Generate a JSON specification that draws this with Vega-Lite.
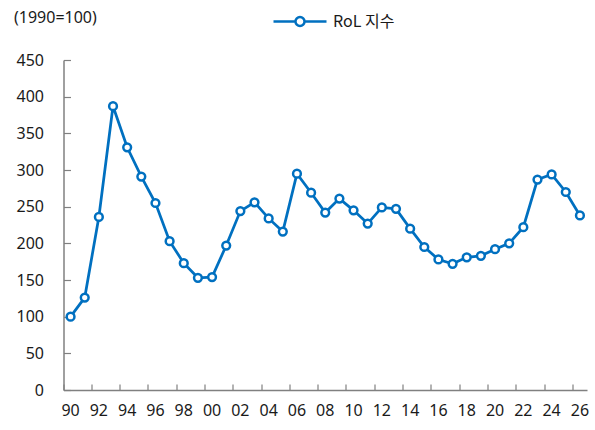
{
  "$schema": "https://vega.github.io/schema/vega-lite/v6.json",
  "autosize": "none",
  "width": 523.5,
  "height": 330,
  "padding": {"left": 63.5, "top": 60, "right": 8, "bottom": 40},
  "background": "white",
  "config": {
    "view": {"stroke": null},
    "font": "Noto Sans",
    "axis": {"labelFont": "Noto Sans", "labelFontSize": 16, "labelColor": "#1a1a1a", "domainColor": "#808080", "tickColor": "#808080", "domainWidth": 1.5, "tickWidth": 1.2, "grid": false}
  },
  "data": {
    "values": [
      {"year": "90", "v": 100}, {"year": "91", "v": 126}, {"year": "92", "v": 236}, {"year": "93", "v": 387},
      {"year": "94", "v": 331}, {"year": "95", "v": 291}, {"year": "96", "v": 255}, {"year": "97", "v": 203},
      {"year": "98", "v": 173}, {"year": "99", "v": 153}, {"year": "00", "v": 154}, {"year": "01", "v": 197},
      {"year": "02", "v": 244}, {"year": "03", "v": 256}, {"year": "04", "v": 234}, {"year": "05", "v": 216},
      {"year": "06", "v": 295}, {"year": "07", "v": 269}, {"year": "08", "v": 242}, {"year": "09", "v": 261},
      {"year": "10", "v": 245}, {"year": "11", "v": 227}, {"year": "12", "v": 249}, {"year": "13", "v": 247},
      {"year": "14", "v": 220}, {"year": "15", "v": 195}, {"year": "16", "v": 178}, {"year": "17", "v": 172},
      {"year": "18", "v": 181}, {"year": "19", "v": 183}, {"year": "20", "v": 192}, {"year": "21", "v": 200},
      {"year": "22", "v": 222}, {"year": "23", "v": 287}, {"year": "24", "v": 294}, {"year": "25", "v": 270},
      {"year": "26", "v": 238}
    ]
  },
  "transform": [{"calculate": "'RoL 지수'", "as": "series"}],
  "mark": {
    "type": "line",
    "strokeWidth": 2.75,
    "point": {"filled": false, "fill": "white", "size": 60, "strokeWidth": 2.5, "color": "#0070C0"}
  },
  "encoding": {
    "x": {
      "field": "year", "type": "ordinal", "sort": null,
      "scale": {"type": "band", "paddingInner": 0, "paddingOuter": 0},
      "axis": {
        "title": null,
        "values": ["90","92","94","96","98","00","02","04","06","08","10","12","14","16","18","20","22","24","26"],
        "bandPosition": 0,
        "labelAngle": 0,
        "tickSize": -6,
        "labelPadding": 18
      }
    },
    "y": {
      "field": "v", "type": "quantitative",
      "scale": {"domain": [0, 450], "nice": false, "zero": true},
      "axis": {
        "values": [0, 50, 100, 150, 200, 250, 300, 350, 400, 450],
        "tickSize": -7,
        "labelPadding": 27,
        "title": "(1990=100)",
        "titleAngle": 0,
        "titleAlign": "left",
        "titleBaseline": "middle",
        "titleFont": "Noto Sans",
        "titleFontSize": 16,
        "titleFontWeight": "normal",
        "titleColor": "#1a1a1a",
        "titleX": -50,
        "titleY": -43
      }
    },
    "color": {
      "field": "series", "type": "nominal",
      "scale": {"range": ["#0070C0"]},
      "legend": {
        "title": null,
        "orient": "none",
        "legendX": 208.5,
        "legendY": -66.5,
        "symbolType": "M-1,0L-0.17,0M0.17,0L1,0M-0.17,0A0.17,0.17 0 1,1 0.17,0A0.17,0.17 0 1,1 -0.17,0Z",
        "symbolSize": 2809,
        "symbolFillColor": "white",
        "symbolStrokeColor": "#0070C0",
        "symbolStrokeWidth": 2.5,
        "labelFont": "Noto Sans CJK KR",
        "labelFontSize": 16,
        "labelColor": "#1a1a1a",
        "labelOffset": 5
      }
    }
  }
}
